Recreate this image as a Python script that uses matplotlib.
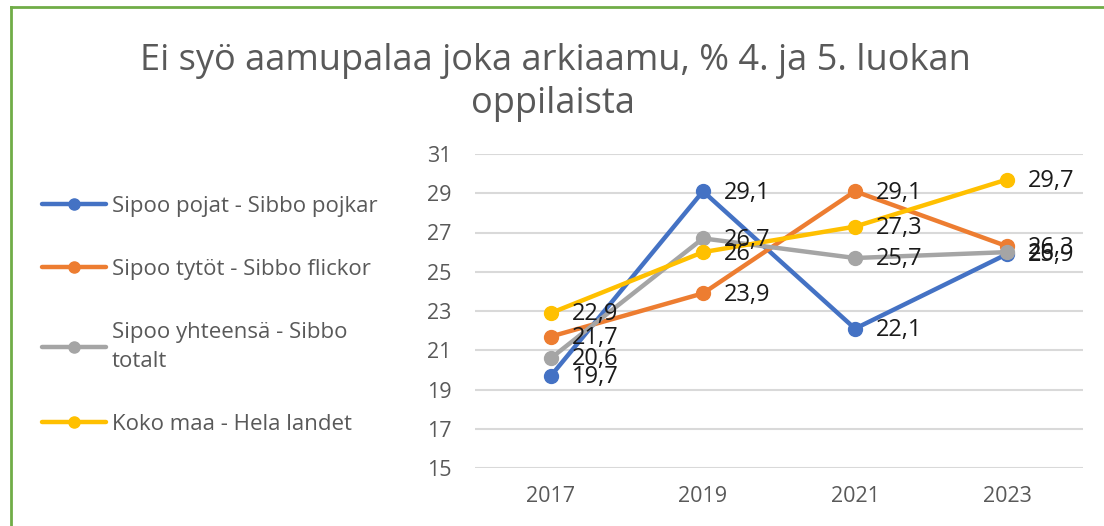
import matplotlib.pyplot as plt
from matplotlib.lines import Line2D

years = ['2017', '2019', '2021', '2023']
pojat = [19.7, 29.1, 22.1, 25.9]
tytot = [21.7, 23.9, 29.1, 26.3]
yhteensa = [20.6, 26.7, 25.7, 26.0]
koko_maa = [22.9, 26.0, 27.3, 29.7]

series = [
    ('Sipoo pojat - Sibbo pojkar', pojat, '#4472C4'),
    ('Sipoo tytöt - Sibbo flickor', tytot, '#ED7D31'),
    ('Sipoo yhteensä - Sibbo\ntotalt', yhteensa, '#A5A5A5'),
    ('Koko maa - Hela landet', koko_maa, '#FFC000'),
]
yticks = list(range(15, 32, 2))

plt.rcParams['font.family'] = ['Open Sans', 'DejaVu Sans']

fig = plt.figure(figsize=(11.04, 5.26), dpi=100)
ax = fig.add_axes([475 / 1104, 1 - 468 / 526, 608 / 1104, 314 / 526])

x = list(range(len(years)))
for name, vals, col in series:
    ax.plot(x, vals, color=col, lw=3.2, marker='o', ms=10, label=name,
            solid_capstyle='round')

# data labels on top of everything
for name, vals, col in series:
    for xi, v in zip(x, vals):
        txt = ('%.1f' % v).replace('.', ',')
        if txt.endswith(',0'):
            txt = txt[:-2]
        ax.annotate(txt, (xi, v), xytext=(15, -1), textcoords='offset points',
                    va='center', ha='left', fontsize=17, color='#1a1a1a', zorder=5)

ax.set_xlim(-0.5, 3.5)
ax.set_ylim(15, 31)
ax.set_xticks(x)
ax.set_xticklabels(years)
ax.set_yticks(yticks)
ax.tick_params(length=0, labelsize=15.5, labelcolor='#595959')
ax.tick_params(axis='y', pad=17)
ax.tick_params(axis='x', pad=13)
ax.grid(axis='y', color='#D9D9D9', lw=1.5)
ax.set_axisbelow(True)
for s in ax.spines.values():
    s.set_visible(False)

fig.text(0.503, 1 - 61 / 526, 'Ei syö aamupalaa joka arkiaamu, % 4. ja 5. luokan',
         ha='center', va='center', fontsize=26, color='#595959')
fig.text(0.501, 1 - 104 / 526, 'oppilaista',
         ha='center', va='center', fontsize=26, color='#595959')

leg = fig.legend(loc='upper left', bbox_to_anchor=(22 / 1104, 1 - 176 / 526),
                 frameon=False, fontsize=16, labelcolor='#595959',
                 handlelength=2.9, handletextpad=0.25, labelspacing=1.9,
                 markerscale=0.8)
for t in leg.get_texts():
    t.set_linespacing(1.45)

# green frame
fig.add_artist(Line2D([11 / 1104, 1], [1 - 7 / 526, 1 - 7 / 526],
                      transform=fig.transFigure, color='#70AD47', lw=2))
fig.add_artist(Line2D([11 / 1104, 11 / 1104], [0, 1 - 7 / 526],
                      transform=fig.transFigure, color='#70AD47', lw=2))

fig.savefig('out.png', dpi=100)
